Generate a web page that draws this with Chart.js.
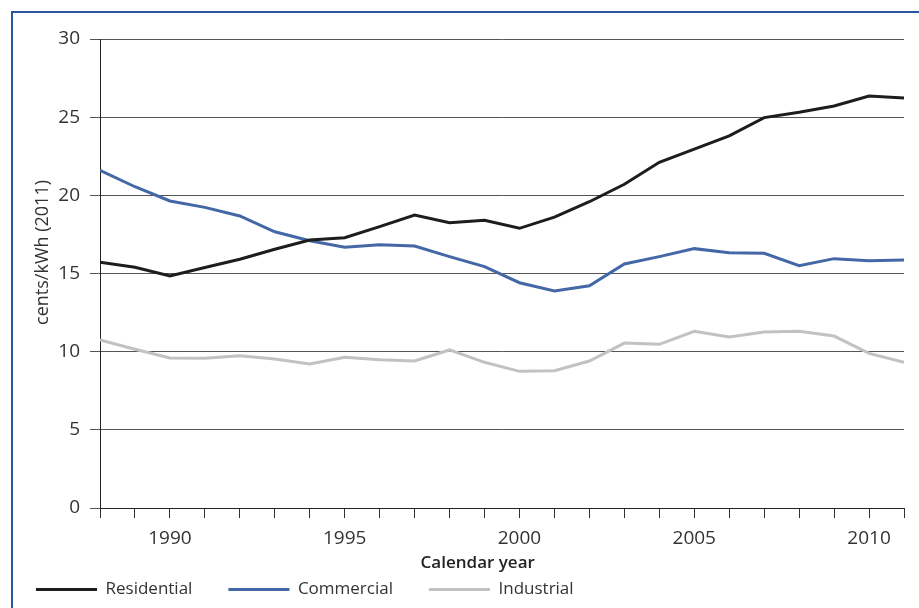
<!DOCTYPE html>
<html>
<head>
<meta charset="utf-8">
<script src="https://cdn.jsdelivr.net/npm/chart.js@4"></script>
<style>
  html, body { margin: 0; padding: 0; background: #fff; }
  #wrap { position: relative; width: 919px; height: 608px; overflow: hidden; }
  #frame { position: absolute; left: 11px; top: 11px; width: 920px; height: 620px;
           border-left: 2px solid #2a58a0; border-top: 2px solid #2a58a0; z-index: 0; }
  #c { position: absolute; left: 0; top: 0; z-index: 1; }
</style>
</head>
<body>
<div id="wrap">
  <div id="frame"></div>
  <canvas id="c" width="919" height="608"></canvas>
</div>
<script>
const years = [1988,1989,1990,1991,1992,1993,1994,1995,1996,1997,1998,1999,2000,2001,2002,2003,2004,2005,2006,2007,2008,2009,2010,2011];
const residential = [15.72,15.40,14.84,15.38,15.91,16.55,17.14,17.29,18.00,18.74,18.25,18.40,17.89,18.61,19.59,20.71,22.11,22.96,23.80,24.97,25.31,25.71,26.35,26.23];
const commercial  = [21.60,20.55,19.64,19.23,18.68,17.67,17.10,16.68,16.84,16.76,16.08,15.44,14.41,13.88,14.22,15.61,16.08,16.59,16.33,16.29,15.50,15.95,15.82,15.86];
const industrial  = [10.75,10.15,9.59,9.58,9.74,9.53,9.21,9.64,9.49,9.40,10.11,9.32,8.74,8.78,9.40,10.55,10.47,11.30,10.94,11.26,11.30,11.00,9.89,9.32];
const seriesNames = ['Residential','Commercial','Industrial'];
const seriesColors = ['#1d1d1b','#4467a6','#c2c2c4'];
const xTitle = 'Calendar year';
const yTitle = 'cents/kWh (2011)';
const labelYears = [1990,1995,2000,2005,2010];

const FONT = "'Open Sans', 'Noto Sans', sans-serif";
const toPts = arr => arr.map((v, i) => ({ x: years[i], y: v }));
const allSeries = [residential, commercial, industrial];

new Chart(document.getElementById('c'), {
  type: 'line',
  data: {
    datasets: allSeries.map((s, i) => ({
      label: seriesNames[i],
      data: toPts(s),
      borderColor: seriesColors[i],
      backgroundColor: seriesColors[i],
      borderWidth: 3,
      pointRadius: 0,
      tension: 0,
      fill: false
    }))
  },
  options: {
    responsive: false,
    animation: false,
    devicePixelRatio: 1,
    layout: { padding: { left: 0, top: 39, right: 15, bottom: 0 } },
    plugins: {
      tooltip: { enabled: false },
      legend: {
        position: 'bottom',
        align: 'start',
        labels: {
          usePointStyle: true,
          pointStyle: 'line',
          pointStyleWidth: 61,
          padding: 36,
          color: '#333',
          font: { family: FONT, size: 17 }
        }
      }
    },
    scales: {
      x: {
        type: 'linear',
        min: 1988, max: 2011,
        afterFit: s => { s.height = 37; },
        grid: { drawOnChartArea: false, drawTicks: true, tickLength: 10, color: '#333', lineWidth: 1 },
        border: { color: '#222', width: 1 },
        ticks: {
          stepSize: 1, autoSkip: false, maxRotation: 0, padding: 9,
          color: '#333', font: { family: FONT, size: 19 },
          callback: v => labelYears.includes(v) ? String(v) : ''
        },
        title: {
          display: true, text: xTitle + '           ', color: '#222',
          font: { family: FONT, size: 17, weight: '600' },
          padding: { top: 0, bottom: -28 }
        }
      },
      y: {
        min: 0, max: 30,
        afterFit: s => { s.width = 100; },
        grid: { color: '#555', lineWidth: 1, tickLength: 10, drawTicks: true },
        border: { color: '#222', width: 1 },
        ticks: { stepSize: 5, padding: 10, color: '#333', font: { family: FONT, size: 19 } },
        title: {
          display: true, text: '         ' + yTitle, color: '#333',
          font: { family: FONT, size: 18 },
          padding: { top: 32, bottom: 0 }
        }
      }
    }
  }
});
</script>
</body>
</html>
